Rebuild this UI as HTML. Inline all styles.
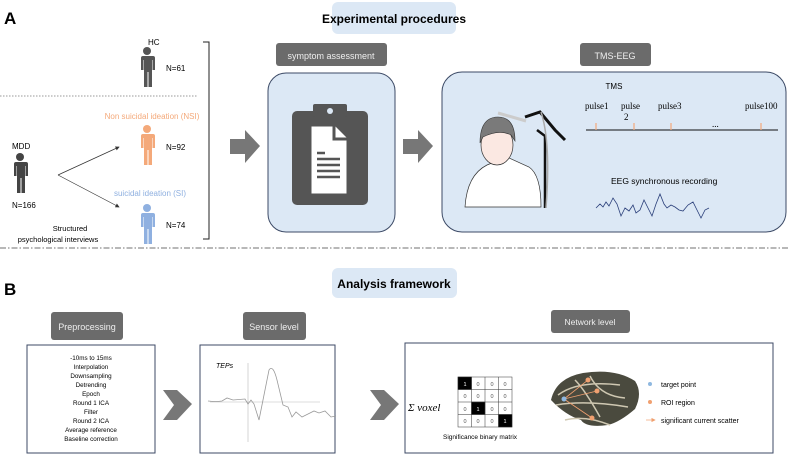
<!DOCTYPE html>
<html><head><meta charset="utf-8"><style>
html,body{margin:0;padding:0;background:#fff;}
svg{display:block;font-family:"Liberation Sans",sans-serif;}
</style></head><body>
<svg width="790" height="455" viewBox="0 0 790 455" xmlns="http://www.w3.org/2000/svg">
<defs>
<g id="person">
<circle cx="8" cy="4" r="4"/>
<path d="M2 9 h12 q2 0 2 2 v12 h-2.5 v-10 h-0.5 v27 h-3.5 v-15 h-1 v15 h-3.5 v-27 h-0.5 v10 h-2.5 v-12 q0-2 2-2z"/>
</g>
<marker id="ah" markerWidth="6" markerHeight="6" refX="5" refY="3" orient="auto"><path d="M0,0 L6,3 L0,6z" fill="#333"/></marker>
<marker id="oh" markerWidth="6" markerHeight="6" refX="5" refY="3" orient="auto"><path d="M0,0 L6,3 L0,6z" fill="#f0a070"/></marker>
</defs>
<text x="4" y="24" font-size="17" font-weight="bold">A</text>
<rect x="332" y="2" width="124" height="32" rx="6" fill="#dce8f5"/>
<text x="394" y="23" font-size="12" font-weight="bold" text-anchor="middle">Experimental procedures</text>

<text x="148" y="45" font-size="8">HC</text>
<use href="#person" x="139" y="47" fill="#555"/>
<text x="166" y="71" font-size="8">N=61</text>
<line x1="0" y1="96" x2="198" y2="96" stroke="#777" stroke-dasharray="1.5,1.5" stroke-width="0.8"/>
<path d="M203 42 h6 v197 h-6" fill="none" stroke="#222" stroke-width="1"/>
<text x="152" y="119" font-size="8" fill="#f4a97a" text-anchor="middle">Non suicidal ideation (NSI)</text>
<use href="#person" x="139" y="125" fill="#f4a97a"/>
<text x="166" y="150" font-size="8">N=92</text>
<text x="12" y="149" font-size="8">MDD</text>
<use href="#person" x="12" y="153" fill="#444"/>
<text x="12" y="208" font-size="8">N=166</text>
<line x1="58" y1="175" x2="119" y2="147" stroke="#333" stroke-width="0.7" marker-end="url(#ah)"/>
<line x1="58" y1="175" x2="119" y2="207" stroke="#333" stroke-width="0.7" marker-end="url(#ah)"/>
<text x="150" y="196" font-size="8" fill="#8fb0e0" text-anchor="middle">suicidal ideation (SI)</text>
<use href="#person" x="139" y="204" fill="#8fb0e0"/>
<text x="166" y="228" font-size="8">N=74</text>
<text x="70" y="231" font-size="7.5" text-anchor="middle">Structured</text>
<text x="58" y="242" font-size="7.5" text-anchor="middle">psychological interviews</text>

<path d="M230 139 h15 v-9 l15 16 l-15 17 v-9 h-15z" fill="#777"/>
<rect x="276" y="43" width="111" height="23" rx="3" fill="#6b6b6b"/>
<text x="331" y="59" font-size="9" fill="#eee" text-anchor="middle">symptom assessment</text>
<rect x="268" y="73" width="127" height="159" rx="18" fill="#dce8f5" stroke="#3c4a66" stroke-width="1"/>
<rect x="292" y="111" width="76" height="94" rx="5" fill="#555"/>
<rect x="313" y="104" width="34" height="13" rx="2" fill="#555"/>
<circle cx="330" cy="111" r="3" fill="#dce8f5"/>
<path d="M310 125 h24 l14 14 v56 h-38z" fill="#fff" stroke="#555" stroke-width="3"/>
<path d="M334 125 v14 h14" fill="#fff" stroke="#555" stroke-width="3"/>
<g stroke="#555" stroke-width="2.5"><line x1="317" y1="153" x2="325" y2="153"/><line x1="317" y1="159" x2="340" y2="159"/><line x1="317" y1="165" x2="340" y2="165"/><line x1="317" y1="171" x2="340" y2="171"/><line x1="317" y1="177" x2="340" y2="177"/></g>

<path d="M403 139 h15 v-9 l15 16 l-15 17 v-9 h-15z" fill="#777"/>
<rect x="580" y="43" width="71" height="23" rx="3" fill="#6b6b6b"/>
<text x="615" y="59" font-size="9" fill="#eee" text-anchor="middle">TMS-EEG</text>
<rect x="442" y="72" width="344" height="160" rx="20" fill="#dce8f5" stroke="#3c4a66" stroke-width="1"/>
<path d="M465 207 q2-32 22-42 l20 -8 l22 10 q12 8 12 40z" fill="#fff" stroke="#333" stroke-width="0.7"/>
<ellipse cx="497" cy="145" rx="16" ry="20" fill="#fbe8e2" stroke="#333" stroke-width="0.7"/>
<path d="M480 143 q0-26 18-26 q17 0 17 24 l-4 -6 q-12 -6 -28 2z" fill="#7a7a7a" stroke="#333" stroke-width="0.6"/>
<path d="M498 113 l28 8" stroke="#ccc" stroke-width="3"/>
<path d="M525 117 l15 -5 l15 18 l10 10" stroke="#111" stroke-width="3" fill="none"/>
<path d="M537 130 l8 6 v72" stroke="#111" stroke-width="2.5" fill="none"/>
<path d="M541 112 q10 30 5 96" stroke="#aaa" stroke-width="1.5" fill="none"/>
<text x="614" y="89" font-size="8" text-anchor="middle">TMS</text>
<g font-family="Liberation Serif,serif" font-size="9"><text x="585" y="109">pulse1</text><text x="621" y="109">pulse</text><text x="624" y="120">2</text><text x="658" y="109">pulse3</text><text x="745" y="109">pulse100</text><text x="712" y="127">...</text></g>
<line x1="586" y1="130" x2="778" y2="130" stroke="#111" stroke-width="1"/>
<g stroke="#f4a97a" stroke-width="1.2"><line x1="596" y1="123" x2="596" y2="130"/><line x1="634" y1="123" x2="634" y2="130"/><line x1="671" y1="123" x2="671" y2="130"/><line x1="761" y1="123" x2="761" y2="130"/></g>
<text x="611" y="184" font-size="8.5">EEG synchronous recording</text>
<path d="M596 208 l4-4 l3 3 l3-5 l3 4 l4-8 l4 6 l4 12 l4-8 l4 3 l4-6 l3 8 l4-3 l4-10 l4 8 l4 8 l4-12 l4-10 l4 10 l3 4 l4-3 l4 2 l4 3 l4 1 l5-6 l5-3 l4 8 l4 8 l4-8 l4 -2" fill="none" stroke="#2a3f7a" stroke-width="0.8"/>

<line x1="0" y1="248" x2="790" y2="248" stroke="#444" stroke-width="0.8" stroke-dasharray="6,2,1.5,2"/>

<text x="4" y="295" font-size="17" font-weight="bold">B</text>
<rect x="332" y="268" width="125" height="30" rx="6" fill="#dce8f5"/>
<text x="394" y="288" font-size="12" font-weight="bold" text-anchor="middle">Analysis framework</text>

<rect x="51" y="312" width="72" height="28" rx="3" fill="#6b6b6b"/>
<text x="87" y="330" font-size="9" fill="#eee" text-anchor="middle">Preprocessing</text>
<rect x="27" y="345" width="128" height="108" fill="#fff" stroke="#3c4a66" stroke-width="1"/>
<g font-size="6.3" text-anchor="middle"><text x="91" y="360">-10ms to 15ms</text><text x="91" y="369">Interpolation</text><text x="91" y="378">Downsampling</text><text x="91" y="387">Detrending</text><text x="91" y="396">Epoch</text><text x="91" y="405">Round 1 ICA</text><text x="91" y="414">Filter</text><text x="91" y="423">Round 2 ICA</text><text x="91" y="432">Average reference</text><text x="91" y="441">Baseline correction</text></g>
<path d="M163 390 h14 l15 14 l-15 16 h-14 l11-15z" fill="#777"/>
<rect x="243" y="312" width="63" height="28" rx="3" fill="#6b6b6b"/>
<text x="274" y="330" font-size="9" fill="#eee" text-anchor="middle">Sensor level</text>
<rect x="200" y="345" width="135" height="108" fill="#fff" stroke="#3c4a66" stroke-width="1"/>
<text x="216" y="368" font-size="7" font-style="italic">TEPs</text>
<line x1="210" y1="402" x2="320" y2="402" stroke="#bbb" stroke-width="0.6"/>
<line x1="248" y1="363" x2="248" y2="442" stroke="#bbb" stroke-width="0.6"/>
<path d="M208 401 q8 1 14 0 l5-3 l6 2 l12-1 l3 5 l3-4 l3 4 l5 16 l4-20 l6-30 q4-6 8 10 l6 25 l5 2 l4 10 l4-5 l6 5 l6-3 l6 -3 l5 2 l6-2 l6 6 l5-1" fill="none" stroke="#999" stroke-width="0.8"/>
<path d="M370 390 h14 l15 14 l-15 16 h-14 l11-15z" fill="#777"/>
<rect x="551" y="310" width="79" height="23" rx="3" fill="#6b6b6b"/>
<text x="590" y="325" font-size="8.5" fill="#eee" text-anchor="middle">Network level</text>
<rect x="405" y="343" width="368" height="110" fill="#fff" stroke="#3c4a66" stroke-width="1"/>
<text x="408" y="411" font-family="Liberation Serif,serif" font-style="italic" font-size="11">Σ voxel</text>
<g stroke="#333" stroke-width="0.5">
<rect x="458" y="377" width="54" height="50" fill="#fff"/>
<rect x="458" y="377" width="13.5" height="12.5" fill="#000"/><rect x="471.5" y="402" width="13.5" height="12.5" fill="#000"/><rect x="498.5" y="414.5" width="13.5" height="12.5" fill="#000"/>
<line x1="471.5" y1="377" x2="471.5" y2="427"/><line x1="485" y1="377" x2="485" y2="427"/><line x1="498.5" y1="377" x2="498.5" y2="427"/>
<line x1="458" y1="389.5" x2="512" y2="389.5"/><line x1="458" y1="402" x2="512" y2="402"/><line x1="458" y1="414.5" x2="512" y2="414.5"/>
</g>
<g font-size="5.5" text-anchor="middle" fill="#555">
<text x="465" y="386" fill="#fff">1</text><text x="478" y="386">0</text><text x="492" y="386">0</text><text x="505" y="386">0</text>
<text x="465" y="398">0</text><text x="478" y="398">0</text><text x="492" y="398">0</text><text x="505" y="398">0</text>
<text x="465" y="411">0</text><text x="478" y="411" fill="#fff">1</text><text x="492" y="411">0</text><text x="505" y="411">0</text>
<text x="465" y="423">0</text><text x="478" y="423">0</text><text x="492" y="423">0</text><text x="505" y="423" fill="#fff">1</text>
</g>
<text x="443" y="439" font-size="6.5">Significance binary matrix</text>
<path d="M551 400 q5-22 32-27 q32-5 52 8 q8 12 0 28 q-15 13 -27 16 q-22 3 -27 -5 q-16 -5 -30 -20z" fill="#4a4a3e"/>
<path d="M558 395 q20-15 62-10 M556 405 q30-5 72 2 M575 380 q10 10 25 37 M565 420 q20-5 45 5 M590 376 q10 20 35 22" stroke="#cfc8b2" stroke-width="1.5" fill="none"/>
<g stroke="#f0a070" stroke-width="0.8" fill="none"><line x1="564" y1="399" x2="588" y2="380"/><line x1="564" y1="399" x2="597" y2="391"/><line x1="564" y1="399" x2="592" y2="418"/></g>
<circle cx="564" cy="399" r="2.5" fill="#8fb8e0"/>
<circle cx="588" cy="380" r="2.5" fill="#f0a070"/><circle cx="597" cy="391" r="2.5" fill="#f0a070"/><circle cx="592" cy="418" r="2.5" fill="#f0a070"/>
<circle cx="650" cy="384" r="2" fill="#8fb8e0"/><text x="661" y="387" font-size="7">target point</text>
<circle cx="650" cy="402" r="2" fill="#f0a070"/><text x="661" y="405" font-size="7">ROI region</text>
<line x1="646" y1="420" x2="655" y2="420" stroke="#f0a070" stroke-width="0.7" marker-end="url(#oh)"/><text x="661" y="423" font-size="7">significant current scatter</text>
</svg>
</body></html>
